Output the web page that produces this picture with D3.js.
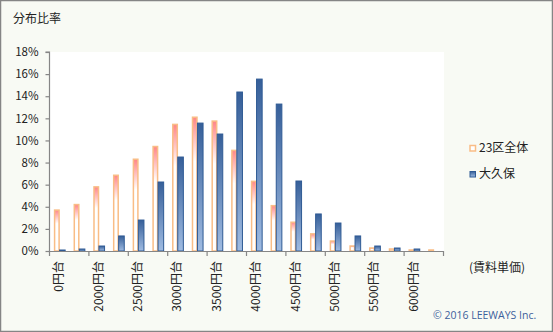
<!DOCTYPE html>
<html>
<head>
<meta charset="utf-8">
<script src="https://cdn.jsdelivr.net/npm/d3@7"></script>
<style>
  html, body { margin: 0; padding: 0; background: #fff; }
  svg { display: block; }
  text { font-family: "Noto Sans CJK JP", "Noto Sans", sans-serif; fill: #222; }
</style>
</head>
<body>
<svg id="chart" width="553" height="332"></svg>
<script>
// Rent price bands (円台); only every second label is printed on the axis
const categories = [
  "0円台", "1750円台", "2000円台", "2250円台", "2500円台", "2750円台",
  "3000円台", "3250円台", "3500円台", "3750円台", "4000円台", "4250円台",
  "4500円台", "4750円台", "5000円台", "5250円台", "5500円台", "5750円台",
  "6000円台", "6250円台"
];
const seriesNames = ["23区全体", "大久保"];
// Share of listings in each band (%)
const wardsAll = [3.7, 4.2, 5.8, 6.85, 8.3, 9.45, 11.45, 12.1, 11.75, 9.1,
                  6.3, 4.1, 2.6, 1.55, 0.9, 0.45, 0.27, 0.18, 0.09, 0.09];
const okubo   = [0.09, 0.18, 0.45, 1.36, 2.8, 6.24, 8.5, 11.57, 10.58, 14.38,
                  15.55, 13.29, 6.33, 3.35, 2.53, 1.36, 0.45, 0.27, 0.18, 0];
const yTicks = [0, 2, 4, 6, 8, 10, 12, 14, 16, 18];

const svg = d3.select("#chart");
const W = 553, H = 332;
const plot = { left: 50, right: 444, top: 52, bottom: 251 };

// gradients for the bar fills
const defs = svg.append("defs");
const gOrange = defs.append("linearGradient").attr("id", "gOrange")
  .attr("x1", 0).attr("y1", 0).attr("x2", 0).attr("y2", 1);
gOrange.append("stop").attr("offset", 0).attr("stop-color", "#ff8587");
gOrange.append("stop").attr("offset", 0.33).attr("stop-color", "#ffffff");
gOrange.append("stop").attr("offset", 1).attr("stop-color", "#ffffff");
const gBlue = defs.append("linearGradient").attr("id", "gBlue")
  .attr("x1", 0).attr("y1", 0).attr("x2", 0).attr("y2", 1);
gBlue.append("stop").attr("offset", 0).attr("stop-color", "#365f99");
gBlue.append("stop").attr("offset", 1).attr("stop-color", "#9fbbe2");

// chart background and frame
svg.append("rect").attr("x", 0.5).attr("y", 0.5).attr("width", W - 1).attr("height", H - 1)
  .attr("fill", "#f8faf4").attr("stroke", "#858585").attr("stroke-width", 1.5);
svg.append("rect").attr("x", plot.left).attr("y", plot.top)
  .attr("width", plot.right - plot.left).attr("height", plot.bottom - plot.top)
  .attr("fill", "#ffffff");

// scales
const x = d3.scaleBand().domain(categories).range([plot.left, plot.right]).padding(0);
const xs = d3.scaleBand().domain(seriesNames).range([0, x.bandwidth()])
  .paddingInner(0).paddingOuter(0.64);
const y = d3.scaleLinear().domain([0, 18]).range([plot.bottom, plot.top]);

const rows = categories.map((c, i) => ({ c, a: wardsAll[i], b: okubo[i] }));

// 23区全体 bars
svg.append("g").selectAll("rect").data(rows).join("rect")
  .attr("x", d => x(d.c) + xs("23区全体") + 0.75)
  .attr("width", xs.bandwidth() - 1.5)
  .attr("y", d => y(d.a))
  .attr("height", d => y(0) - y(d.a))
  .attr("fill", "url(#gOrange)")
  .attr("stroke", "#f9bd86").attr("stroke-width", 1.5);

// 大久保 bars
svg.append("g").selectAll("rect").data(rows.filter(d => d.b > 0)).join("rect")
  .attr("x", d => x(d.c) + xs("大久保") - 0.3)
  .attr("width", xs.bandwidth() - 0.4)
  .attr("y", d => y(d.b))
  .attr("height", d => y(0) - y(d.b))
  .attr("fill", "url(#gBlue)")
  .attr("stroke", "#2f5a94").attr("stroke-width", 1);

// y axis
const yAxis = svg.append("g").attr("transform", `translate(${plot.left - 0.5},0)`)
  .call(d3.axisLeft(y).tickValues(yTicks).tickSize(4).tickPadding(7)
    .tickFormat(d => d + "%"));
yAxis.select(".domain").attr("stroke", "#868686").attr("stroke-width", 1.2)
  .attr("d", `M-4,${plot.top}H0V${plot.bottom}`);
yAxis.selectAll(".tick line").attr("stroke", "#868686").attr("stroke-width", 1.2);
yAxis.selectAll(".tick text").attr("font-size", 11.5).attr("fill", "#222")
  .style("font-family", '"Noto Sans CJK JP", sans-serif');

// x axis: line, ticks every two bands, labels on every second band
const xg = svg.append("g");
xg.append("line").attr("x1", plot.left - 1).attr("x2", plot.right)
  .attr("y1", plot.bottom + 0.5).attr("y2", plot.bottom + 0.5)
  .attr("stroke", "#868686").attr("stroke-width", 1.2);
const tickPos = categories.filter((c, i) => i % 2 === 0).map(c => x(c)).concat([x.range()[1]]);
xg.selectAll("line.tk").data(tickPos).join("line").attr("class", "tk")
  .attr("x1", d => d - 0.5).attr("x2", d => d - 0.5)
  .attr("y1", plot.bottom).attr("y2", plot.bottom + 5)
  .attr("stroke", "#868686").attr("stroke-width", 1.2);
xg.selectAll("text").data(categories.filter((c, i) => i % 2 === 0)).join("text")
  .attr("transform", d => `translate(${x(d) + x.bandwidth() / 2 - 0.8},${plot.bottom + 10}) rotate(-90)`)
  .attr("text-anchor", "end").attr("dy", "0.35em")
  .attr("font-size", 12).text(d => d);

// titles
svg.append("text").attr("x", 13).attr("y", 23).attr("font-size", 12).text("分布比率");
svg.append("text").attr("x", 469).attr("y", 272).attr("font-size", 12).text("(賃料単価)");

// legend
const legend = svg.append("g");
const legendItems = [
  { name: "23区全体", y: 148, fill: "#ffffff", stroke: "#f9bd86", sw: 1.5 },
  { name: "大久保", y: 174, fill: "url(#gBlue)", stroke: "#2f5a94", sw: 1 }
];
legendItems.forEach(it => {
  legend.append("rect").attr("x", 470).attr("y", it.y - 2.5).attr("width", 5.5).attr("height", 5.5)
    .attr("fill", it.fill).attr("stroke", it.stroke).attr("stroke-width", it.sw);
  legend.append("text").attr("x", 479).attr("y", it.y).attr("dy", "0.35em")
    .attr("font-size", 12).text(it.name);
});

// copyright
svg.append("text").attr("x", 433).attr("y", 319).attr("font-size", 10.5)
  .style("fill", "#3d5f9c").style("font-family", '"Open Sans", "Noto Sans", sans-serif')
  .text("© 2016 LEEWAYS Inc.");
</script>
</body>
</html>
